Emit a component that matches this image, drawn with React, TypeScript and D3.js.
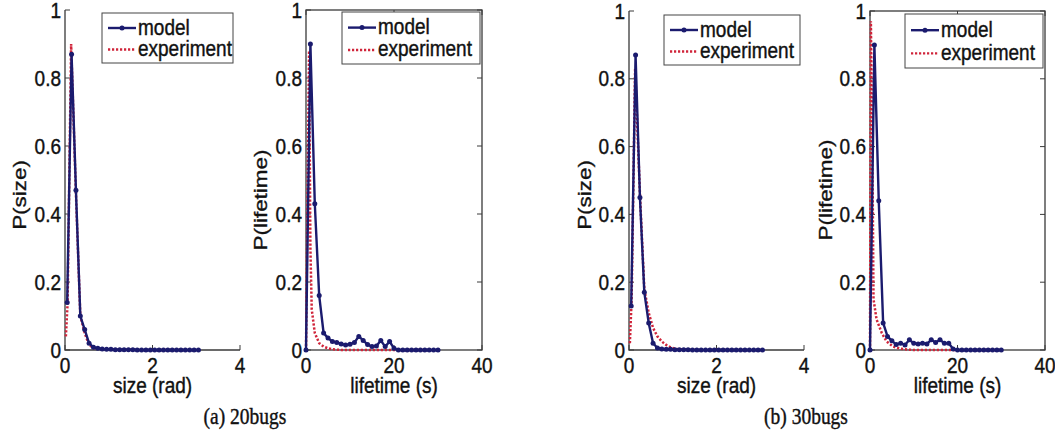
import React from 'react';
import * as d3 from 'd3';

// Vertical stretch applied to all lettering (the figure is taller than its type).
const SY = 1.18;
const SANS = "'Liberation Sans', Arial, Helvetica, sans-serif";
const SERIF = "'Liberation Serif', 'Times New Roman', serif";
const MODEL_COLOR = '#1b1b6e';
const EXP_COLOR = '#d0243a';
const AXIS_COLOR = '#3a3a3a';
const FS = 19;

// ---- size distributions (rad) ----
const sizeBins = [
  0.05, 0.15, 0.25, 0.35, 0.45, 0.55, 0.65, 0.75, 0.85, 0.95, 1.05, 1.15, 1.25, 1.35, 1.45, 1.55,
  1.65, 1.75, 1.85, 1.95, 2.05, 2.15, 2.25, 2.35, 2.45, 2.55, 2.65, 2.75, 2.85, 2.95, 3.05,
];
const sizeExpBins = [
  0.02, 0.06, 0.14, 0.25, 0.35, 0.45, 0.55, 0.65, 0.75, 0.85, 0.95, 1.05, 1.15, 1.25, 1.35, 1.45,
  1.55, 1.65, 1.75, 1.85, 1.95, 2.05, 2.15, 2.25, 2.35, 2.45, 2.55, 2.65, 2.75, 2.85, 2.95, 3.05,
];
const sizeModel20 = [
  0.14, 0.87, 0.47, 0.1, 0.06, 0.02, 0.008, 0.005, 0.003, 0.002, 0.002, 0.001, 0.001, 0.001, 0.001,
  0.001, 0, 0, 0, 0, 0, 0, 0, 0, 0, 0, 0, 0, 0, 0, 0,
];
const sizeExp20 = [
  0.04, 0.14, 0.9, 0.46, 0.1, 0.05, 0.015, 0.006, 0.004, 0.003, 0.002, 0.002, 0.001, 0.001, 0.001,
  0.001, 0.001, 0, 0, 0, 0, 0, 0, 0, 0, 0, 0, 0, 0, 0, 0, 0,
];
const sizeModel30 = [
  0.13, 0.87, 0.45, 0.17, 0.08, 0.02, 0.006, 0.003, 0.002, 0.002, 0.001, 0.001, 0.001, 0.001, 0,
  0, 0, 0, 0, 0, 0, 0, 0, 0, 0, 0, 0, 0, 0, 0, 0,
];
const sizeExp30 = [
  0.02, 0.15, 0.83, 0.46, 0.18, 0.11, 0.065, 0.04, 0.025, 0.015, 0.008, 0.004, 0.002, 0.002, 0.001,
  0.001, 0, 0, 0, 0, 0, 0, 0, 0, 0, 0, 0, 0, 0, 0, 0, 0,
];

// ---- lifetime distributions (s) ----
const lifeBins = [
  0, 1, 2, 3, 4, 5, 6, 7, 8, 9, 10, 11, 12, 13, 14, 15, 16, 17, 18, 19, 20, 21, 22, 23, 24, 25, 26,
  27, 28, 29, 30,
];
const lifeModel20 = [
  0, 0.9, 0.43, 0.16, 0.05, 0.035, 0.025, 0.022, 0.018, 0.015, 0.017, 0.022, 0.04, 0.028, 0.016,
  0.01, 0.012, 0.028, 0.01, 0.025, 0.005, 0, 0, 0, 0, 0, 0, 0, 0, 0, 0,
];
const lifeExpBins20 = [
  0, 0.7, 1.0, 1.3, 2, 3, 4, 5, 6, 7, 8, 9, 10, 12, 14, 16, 18, 20, 22, 24, 26, 28, 30,
];
const lifeExp20 = [
  0, 0.88, 0.3, 0.12, 0.05, 0.02, 0.01, 0.005, 0.002, 0.001, 0, 0, 0, 0, 0, 0, 0, 0, 0, 0, 0, 0, 0,
];
const lifeModel30 = [
  0, 0.9, 0.44, 0.08, 0.04, 0.027, 0.016, 0.02, 0.015, 0.03, 0.02, 0.018, 0.02, 0.018, 0.03, 0.022,
  0.03, 0.02, 0.02, 0.003, 0, 0, 0, 0, 0, 0, 0, 0, 0, 0, 0,
];
const lifeExpBins30 = [
  0, 0.2, 0.6, 0.8, 1.5, 2.7, 3.8, 5.3, 7, 9, 10, 12, 14, 16, 18, 20, 22, 24, 26, 28, 30,
];
const lifeExp30 = [
  0, 0.97, 0.5, 0.15, 0.09, 0.05, 0.025, 0.01, 0.004, 0.001, 0, 0, 0, 0, 0, 0, 0, 0, 0, 0, 0,
];

const yTicks = [0, 0.2, 0.4, 0.6, 0.8, 1];
const yTickLabels = ['0', '0.2', '0.4', '0.6', '0.8', '1'];
const sizeTicks = [0, 2, 4];
const lifeTicks = [0, 20, 40];
const legendLabels = ['model', 'experiment'];
const captions = ['(a)  20bugs', '(b) 30bugs'];

type Pt = [number, number];
const zip = (xs: number[], ys: number[]): Pt[] => xs.map((x, i) => [x, ys[i]] as Pt);

interface PanelSpec {
  left: number;
  right: number;
  top: number;
  bottom: number;
  xMax: number;
  xTicks: number[];
  box: boolean;
  xLabel: string;
  yLabel: string;
  yLabelPos: [number, number];
  legend: [number, number, number, number];
  model: Pt[];
  experiment: Pt[];
}

const panels: PanelSpec[] = [
  {
    left: 65, right: 240, top: 10, bottom: 350, xMax: 4, xTicks: sizeTicks, box: false,
    xLabel: 'size (rad)', yLabel: 'P(size)', yLabelPos: [26, 195], legend: [102, 13, 131, 50],
    model: zip(sizeBins, sizeModel20), experiment: zip(sizeExpBins, sizeExp20),
  },
  {
    left: 306, right: 482, top: 10, bottom: 350, xMax: 40, xTicks: lifeTicks, box: true,
    xLabel: 'lifetime (s)', yLabel: 'P(lifetime)', yLabelPos: [267, 200], legend: [342, 12, 138, 52],
    model: zip(lifeBins, lifeModel20), experiment: zip(lifeExpBins20, lifeExp20),
  },
  {
    left: 629, right: 804, top: 11, bottom: 350, xMax: 4, xTicks: sizeTicks, box: false,
    xLabel: 'size (rad)', yLabel: 'P(size)', yLabelPos: [591, 195], legend: [664, 15, 136, 50],
    model: zip(sizeBins, sizeModel30), experiment: zip(sizeExpBins, sizeExp30),
  },
  {
    left: 870, right: 1045, top: 11, bottom: 350, xMax: 40, xTicks: lifeTicks, box: true,
    xLabel: 'lifetime (s)', yLabel: 'P(lifetime)', yLabelPos: [832, 190], legend: [905, 14, 138, 54],
    model: zip(lifeBins, lifeModel30), experiment: zip(lifeExpBins30, lifeExp30),
  },
];

function Label(props: {
  x: number; y: number; anchor?: 'start' | 'middle' | 'end'; rotate?: boolean;
  size?: number; family?: string; children: React.ReactNode;
}) {
  const { x, y, anchor = 'start', rotate = false, size = FS, family = SANS, children } = props;
  return (
    <text
      transform={`translate(${x},${y}) scale(1,${SY})${rotate ? ' rotate(-90)' : ''}`}
      textAnchor={anchor}
      fontFamily={family}
      fontSize={size}
      fill="#111"
      stroke="#111"
      strokeWidth={0.35}
    >
      {children}
    </text>
  );
}

function Panel({ p }: { p: PanelSpec }) {
  const x = d3.scaleLinear().domain([0, p.xMax]).range([p.left, p.right]);
  const y = d3.scaleLinear().domain([0, 1]).range([p.bottom, p.top]);
  const line = d3.line<Pt>().x((d) => x(d[0])).y((d) => y(d[1]));
  const tick = 5;
  const [lx, ly, lw, lh] = p.legend;
  const rows = [ly + lh * 0.3, ly + lh * 0.73];

  return (
    <g>
      {/* axes */}
      {p.box ? (
        <rect x={p.left} y={p.top} width={p.right - p.left} height={p.bottom - p.top}
          fill="none" stroke={AXIS_COLOR} strokeWidth={1.3} />
      ) : (
        <path d={`M${p.left},${p.top}V${p.bottom}H${p.right}`} fill="none" stroke={AXIS_COLOR} strokeWidth={1.3} />
      )}
      {yTicks.map((t) => (
        <g key={`y${t}`}>
          <line x1={p.left} x2={p.left + tick} y1={y(t)} y2={y(t)} stroke={AXIS_COLOR} />
          {p.box && <line x1={p.right} x2={p.right - tick} y1={y(t)} y2={y(t)} stroke={AXIS_COLOR} />}
        </g>
      ))}
      {p.xTicks.map((t) => (
        <g key={`x${t}`}>
          <line x1={x(t)} x2={x(t)} y1={p.bottom} y2={p.bottom - tick} stroke={AXIS_COLOR} />
          {p.box && <line x1={x(t)} x2={x(t)} y1={p.top} y2={p.top + tick} stroke={AXIS_COLOR} />}
        </g>
      ))}

      {/* curves */}
      <path d={line(p.experiment) ?? ''} fill="none" stroke={EXP_COLOR} strokeWidth={2.5}
        strokeDasharray="2.2,1.8" />
      <path d={line(p.model) ?? ''} fill="none" stroke={MODEL_COLOR} strokeWidth={2.4}
        strokeLinejoin="round" />
      {p.model.map((d, i) => (
        <circle key={i} cx={x(d[0])} cy={y(d[1])} r={2.5} fill={MODEL_COLOR} />
      ))}

      {/* tick labels */}
      {yTicks.map((t, i) => (
        <Label key={`yl${t}`} x={p.left - 4} y={y(t) + 7.5} anchor="end">{yTickLabels[i]}</Label>
      ))}
      {p.xTicks.map((t) => (
        <Label key={`xl${t}`} x={x(t)} y={p.bottom + 23} anchor="middle">{String(t)}</Label>
      ))}

      {/* axis titles */}
      <Label x={(p.left + p.right) / 2} y={393} anchor="middle">{p.xLabel}</Label>
      <Label x={p.yLabelPos[0]} y={p.yLabelPos[1]} anchor="middle" rotate>{p.yLabel}</Label>

      {/* legend */}
      <rect x={lx} y={ly} width={lw} height={lh} fill="#fff" stroke="#444" strokeWidth={1} />
      <line x1={lx + 6} x2={lx + 34} y1={rows[0]} y2={rows[0]} stroke={MODEL_COLOR} strokeWidth={2.4} />
      <circle cx={lx + 20} cy={rows[0]} r={2.5} fill={MODEL_COLOR} />
      <line x1={lx + 6} x2={lx + 34} y1={rows[1]} y2={rows[1]} stroke={EXP_COLOR} strokeWidth={2.4}
        strokeDasharray="2.2,1.8" />
      <Label x={lx + 36} y={rows[0] + 6.5}>{legendLabels[0]}</Label>
      <Label x={lx + 36} y={rows[1] + 6.5}>{legendLabels[1]}</Label>
    </g>
  );
}

export default function App() {
  return (
    <svg width={1055} height={436} style={{ position: 'absolute', left: 0, top: 0, background: '#fff' }}>
      <rect width={1055} height={436} fill="#fff" />
      {panels.map((p, i) => (
        <Panel key={i} p={p} />
      ))}
      <Label x={245} y={424} anchor="middle" family={SERIF} size={19.5}>{captions[0]}</Label>
      <Label x={806} y={424} anchor="middle" family={SERIF} size={19.5}>{captions[1]}</Label>
    </svg>
  );
}
